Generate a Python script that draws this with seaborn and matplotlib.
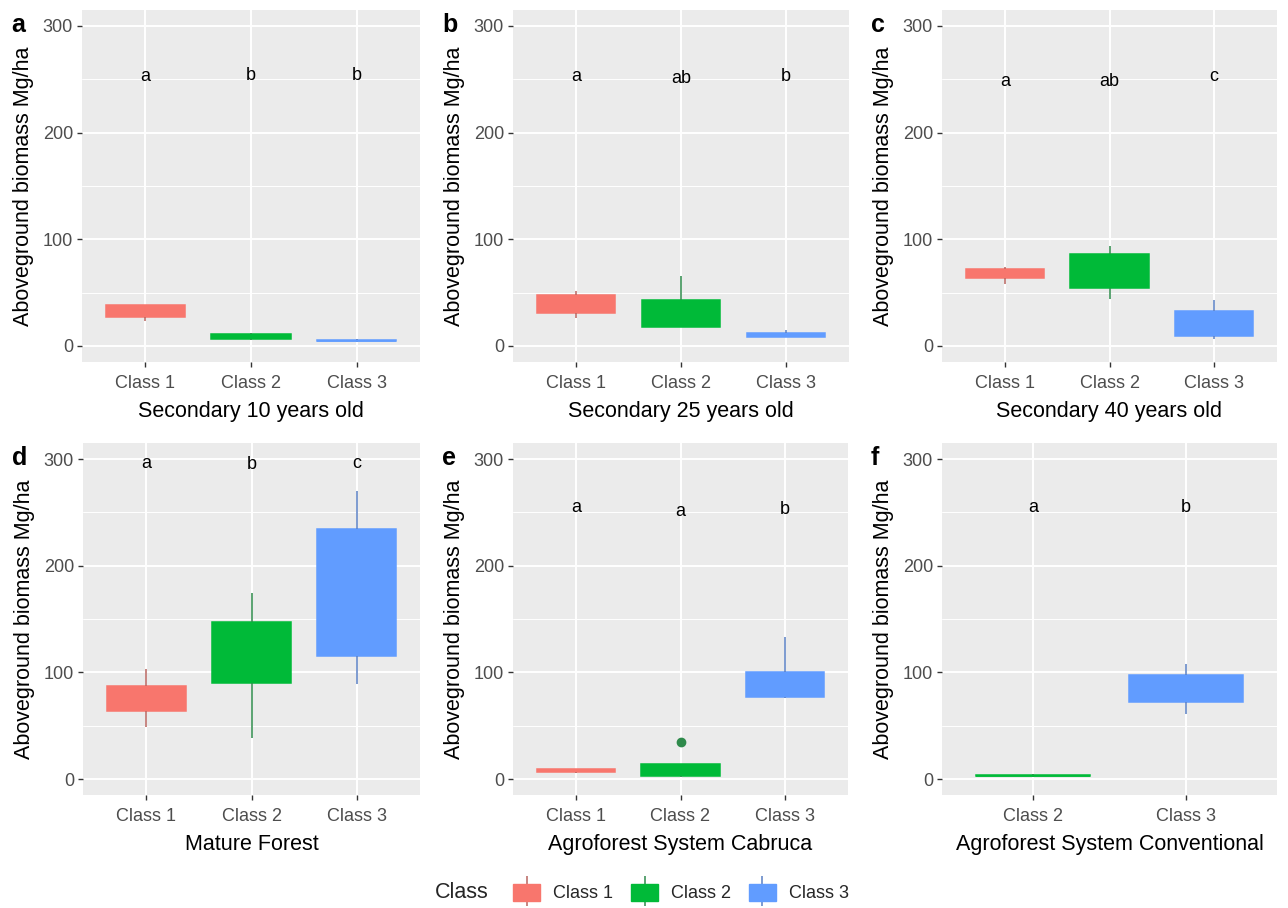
import matplotlib
matplotlib.use("Agg")
import matplotlib.pyplot as plt
import pandas as pd
import seaborn as sns
from matplotlib.patches import Patch
from matplotlib.lines import Line2D
from matplotlib.legend_handler import HandlerTuple

# ---------------------------------------------------------------- data
classes = ["Class 1", "Class 2", "Class 3"]
fill_colors = ["#F8766D", "#00BA38", "#619CFF"]
line_colors = ["#B8655F", "#2E8A4B", "#5A80C4"]

# aboveground biomass (Mg/ha) per plot, by stand type and size class
sec10_class1 = [23, 27, 33, 38, 38]
sec10_class2 = [5.5, 6.5, 9, 11.5, 12]
sec10_class3 = [4, 4.5, 5, 6, 6.5]

sec25_class1 = [26, 31, 40, 48, 52]
sec25_class2 = [18, 18, 30, 43, 66]
sec25_class3 = [8, 8.5, 10, 12, 15]

sec40_class1 = [58, 64, 68, 72, 74]
sec40_class2 = [44, 54, 70, 86, 93.5]
sec40_class3 = [6.5, 9.5, 20, 33, 43]

mature_class1 = [49, 64, 75, 87.5, 103]
mature_class2 = [38, 90, 120, 147, 174]
mature_class3 = [89, 115, 175, 234, 270]

cabruca_class1 = [6, 6.5, 7.5, 9, 9.5]
cabruca_class2 = [2, 3, 3, 6, 14, 14, 34.7]
cabruca_class3 = [76, 77, 88, 100, 133]

conventional_class2 = [2.2, 2.5, 3, 4, 4.5]
conventional_class3 = [60.5, 72.5, 85, 97.5, 107.5]

# significance letters and their heights
sec10_letters, sec10_letter_y = ["a", "b", "b"], [248, 249, 249]
sec25_letters, sec25_letter_y = ["a", "ab", "b"], [248, 247, 248]
sec40_letters, sec40_letter_y = ["a", "ab", "c"], [244, 244, 248]
mature_letters, mature_letter_y = ["a", "b", "c"], [292, 291, 292]
cabruca_letters, cabruca_letter_y = ["a", "a", "b"], [250, 247, 248]
conventional_letters, conventional_letter_y = ["a", "b"], [250, 250]

panels = [
    ("a", "Secondary 10 years old",
     {"Class 1": sec10_class1, "Class 2": sec10_class2, "Class 3": sec10_class3},
     sec10_letters, sec10_letter_y),
    ("b", "Secondary 25 years old",
     {"Class 1": sec25_class1, "Class 2": sec25_class2, "Class 3": sec25_class3},
     sec25_letters, sec25_letter_y),
    ("c", "Secondary 40 years old",
     {"Class 1": sec40_class1, "Class 2": sec40_class2, "Class 3": sec40_class3},
     sec40_letters, sec40_letter_y),
    ("d", "Mature Forest",
     {"Class 1": mature_class1, "Class 2": mature_class2, "Class 3": mature_class3},
     mature_letters, mature_letter_y),
    ("e", "Agroforest System Cabruca",
     {"Class 1": cabruca_class1, "Class 2": cabruca_class2, "Class 3": cabruca_class3},
     cabruca_letters, cabruca_letter_y),
    ("f", "Agroforest System Conventional",
     {"Class 2": conventional_class2, "Class 3": conventional_class3},
     conventional_letters, conventional_letter_y),
]

# ---------------------------------------------------------------- style
sns.set_theme(style="darkgrid", rc={
    "axes.facecolor": "#EBEBEB",
    "figure.facecolor": "white",
    "grid.color": "white",
    "xtick.bottom": True,
    "ytick.left": True,
    "xtick.color": "#333333",
    "ytick.color": "#333333",
    "xtick.labelcolor": "#4D4D4D",
    "ytick.labelcolor": "#4D4D4D",
    "xtick.major.size": 3.5,
    "ytick.major.size": 3.5,
    "xtick.major.width": 1.0,
    "ytick.major.width": 1.0,
    "axes.labelcolor": "black",
})
plt.rcParams["font.family"] = ["Liberation Sans", "DejaVu Sans"]

W, H = 1288, 908
fig = plt.figure(figsize=(W / 100, H / 100), dpi=100)

# axes boxes in pixels: (left, top, right, bottom)
boxes_px = [
    (82, 10, 420, 362), (513, 10, 849, 362), (942, 10, 1277, 362),
    (83, 443, 420, 795), (513, 443, 848, 795), (942, 443, 1277, 795),
]

for (tag, xlabel, groups, letters, letter_y), (l, t, r, b) in zip(panels, boxes_px):
    ax = fig.add_axes([l / W, 1 - b / H, (r - l) / W, (b - t) / H])
    order = list(groups.keys())
    df = pd.DataFrame(
        [(c, v) for c, vals in groups.items() for v in vals],
        columns=["Class", "AGB"],
    )
    for cls in order:
        i = classes.index(cls)
        sub = df[df["Class"] == cls]
        sns.boxplot(
            data=sub, x="Class", y="AGB", order=order, ax=ax,
            color=fill_colors[i], saturation=1, width=0.75,
            showcaps=False, linewidth=1.1, linecolor=line_colors[i],
            fliersize=6,
            boxprops=dict(edgecolor=fill_colors[i]),
            medianprops=dict(color=fill_colors[i]),
            flierprops=dict(marker="o", markerfacecolor=line_colors[i],
                            markeredgecolor=line_colors[i]),
        )
    for k, (lab, yv) in enumerate(zip(letters, letter_y)):
        ax.text(k, yv, lab, ha="center", va="baseline", fontsize=13, color="black")

    ax.set_xlim(-0.6, len(order) - 1 + 0.6)
    ax.set_ylim(-15, 315)
    ax.set_yticks([0, 100, 200, 300])
    ax.set_yticks([50, 150, 250], minor=True)
    ax.tick_params(axis="both", which="major", labelsize=13)
    ax.tick_params(axis="x", which="major", pad=6)
    ax.tick_params(axis="y", which="major", pad=3)
    ax.tick_params(axis="y", which="minor", length=0)
    ax.grid(True, which="major", axis="both", color="white", linewidth=1.4)
    ax.grid(True, which="minor", axis="y", color="white", linewidth=0.7)
    ax.set_axisbelow(True)
    for sp in ax.spines.values():
        sp.set_visible(False)
    ax.set_xlabel(xlabel, fontsize=15.5, labelpad=6)
    ax.set_ylabel("Aboveground biomass Mg/ha", fontsize=15.5, labelpad=6)

    fig.text((l - 71) / W, 1 - (t + 15) / H, tag, fontsize=18, fontweight="bold",
             ha="left", va="center", color="black")

# ---------------------------------------------------------------- legend
handles = [
    (Line2D([], [], color=line_colors[i], marker="|", markersize=22,
            markeredgewidth=1.1, linestyle="none"),
     Patch(facecolor=fill_colors[i], edgecolor=fill_colors[i]))
    for i in range(3)
]
fig.legend(handles, classes, loc="center", bbox_to_anchor=(681 / W, 1 - 893 / H),
           ncol=3, frameon=False, fontsize=13, handlelength=1.5, handleheight=1.1,
           handletextpad=0.7, columnspacing=1.0,
           handler_map={tuple: HandlerTuple(ndivide=1, pad=0)})
fig.text(435 / W, 1 - 893 / H, "Class", fontsize=15.5, ha="left", va="center")

fig.savefig("out.png", dpi=100)
